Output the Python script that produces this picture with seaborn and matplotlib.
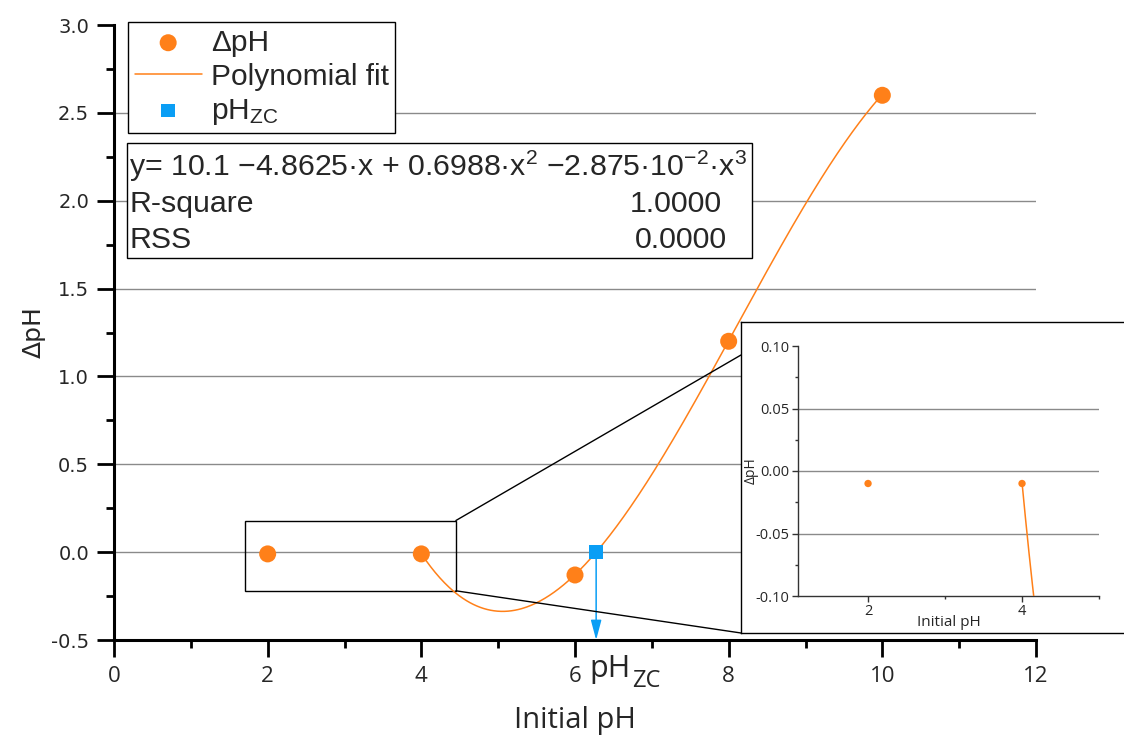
import numpy as np
import pandas as pd
import matplotlib
matplotlib.use("Agg")
import matplotlib.pyplot as plt
import matplotlib.transforms as mtransforms
import seaborn as sns
from matplotlib.patches import Rectangle, ConnectionPatch
from matplotlib.font_manager import FontProperties

# ---- data -------------------------------------------------------------
initial_ph = [2, 4, 6, 8, 10]
delta_ph = [-0.01, -0.01, -0.13, 1.2, 2.6]
fit_coef = [10.1, -4.8625, 0.6988, -2.875e-2]   # c0 + c1*x + c2*x^2 + c3*x^3
fit_range = [4, 10]
r_square = 1.0
rss = 0.0
x_ticks = [0, 2, 4, 6, 8, 10, 12]
y_ticks = [-0.5, 0.0, 0.5, 1.0, 1.5, 2.0, 2.5, 3.0]
inset_x_ticks = [2, 4]
inset_x_minor = [3, 5]
inset_y_ticks = [-0.10, -0.05, 0.0, 0.05, 0.10]

ORANGE = "#FF8019"
BLUE = "#0A9EF5"
GRID = "#8a8a8a"
W, H = 1124, 740

sns.set_theme(style="white")
plt.rcParams["font.family"] = ["DejaVu Sans"]
plt.rcParams["axes.unicode_minus"] = False

fig = plt.figure(figsize=(W / 100, H / 100), dpi=100)
fig.patch.set_facecolor("white")
ax = fig.add_axes([114 / W, 1 - 640 / H, (1036 - 114) / W, (640 - 25) / H])

poly = np.polynomial.Polynomial(fit_coef)
xf = np.linspace(fit_range[0], fit_range[1], 400)
fit_df = pd.DataFrame({"x": xf, "y": poly(xf)})
pts = pd.DataFrame({"x": initial_ph, "y": delta_ph})

# point of zero charge: root of the fitted cubic where delta pH changes sign
roots = poly.roots()
real_roots = np.real(roots[np.isclose(np.imag(roots), 0)])
ph_zc = float(real_roots[(real_roots > initial_ph[2]) & (real_roots < initial_ph[3])][0])
zc_df = pd.DataFrame({"x": [ph_zc], "y": [0.0]})

ZC_LABEL = r"pH$\mathregular{_{ZC}}$"

# ---- main axes --------------------------------------------------------
sns.lineplot(data=fit_df, x="x", y="y", ax=ax, color=ORANGE, lw=1.1,
             label="Polynomial fit", zorder=3)
sns.scatterplot(data=pts, x="x", y="y", ax=ax, color=ORANGE, s=150,
                marker="o", edgecolor="none", label="\u0394pH", zorder=4)
ax.annotate("", xy=(ph_zc, -0.5), xytext=(ph_zc, 0.0),
            arrowprops=dict(arrowstyle="-|>,head_length=1.2,head_width=0.32",
                            color=BLUE, lw=1.1, shrinkA=0, shrinkB=0,
                            mutation_scale=10), zorder=4)
sns.scatterplot(data=zc_df, x="x", y="y", ax=ax, color=BLUE, s=95,
                marker="s", edgecolor="none", label=ZC_LABEL, zorder=5)

ax.set_xlim(0, 12)
ax.set_ylim(-0.5, 3.0)
ax.set_xticks(x_ticks)
ax.set_xticks([1, 3, 5, 7, 9, 11], minor=True)
ax.set_yticks(y_ticks)
ax.set_yticks(np.arange(-0.25, 3.0, 0.5), minor=True)
ax.set_xticklabels([str(v) for v in x_ticks])
ax.set_yticklabels([f"{v:.1f}" for v in y_ticks])
for lbl in ax.get_xticklabels():
    lbl.set_fontfamily("Open Sans")
    lbl.set_fontsize(16)
for lbl in ax.get_yticklabels():
    lbl.set_fontfamily("DejaVu Sans")
    lbl.set_fontsize(14)
ax.tick_params(axis="both", which="major", direction="out", length=12,
               width=2, color="black", bottom=True, left=True)
ax.tick_params(axis="both", which="minor", direction="out", length=6,
               width=2, color="black", bottom=True, left=True)
ax.tick_params(axis="x", which="major", pad=7)
ax.tick_params(axis="y", which="major", pad=6)

for side in ("top", "right"):
    ax.spines[side].set_visible(False)
for side in ("left", "bottom"):
    ax.spines[side].set_color("black")
    ax.spines[side].set_linewidth(2.2)

ax.set_axisbelow(True)
ax.yaxis.grid(True, color=GRID, lw=1)
ax.xaxis.grid(False)
ax.get_ygridlines()[-1].set_visible(False)

ax.set_xlabel("Initial pH", fontfamily="Open Sans", fontsize=21)
ax.xaxis.set_label_coords(0.5, -0.108)
ax.set_ylabel("\u0394pH", fontfamily="DejaVu Sans", fontsize=18)
ax.yaxis.set_label_coords(-0.074, 0.5)

# pH_ZC label beside the 6 tick, drawn as text plus subscript
blend = mtransforms.blended_transform_factory(ax.transData, ax.transAxes)
ax.text(ph_zc, 0.0, "pH",
        transform=mtransforms.offset_copy(blend, fig=fig, x=-7, y=-37, units="dots"),
        ha="left", va="baseline", fontfamily="Open Sans", fontsize=22)
ax.text(ph_zc, 0.0, "ZC",
        transform=mtransforms.offset_copy(blend, fig=fig, x=36, y=-47, units="dots"),
        ha="left", va="baseline", fontfamily="Open Sans", fontsize=17)

# zoom region marker
zoom_x0, zoom_x1, zoom_y0, zoom_y1 = 1.7, 4.45, -0.22, 0.18
ax.add_patch(Rectangle((zoom_x0, zoom_y0), zoom_x1 - zoom_x0, zoom_y1 - zoom_y0,
                       fill=False, ec="black", lw=1, zorder=2))

# legend
handles, labels = ax.get_legend_handles_labels()
order = ["\u0394pH", "Polynomial fit", ZC_LABEL]
hmap = dict(zip(labels, handles))
leg = ax.legend([hmap[k] for k in order], order, loc="upper left",
                bbox_to_anchor=(128 / W, 1 - 22 / H), bbox_transform=fig.transFigure,
                prop=FontProperties(family="Liberation Sans", size=21.5),
                frameon=True, fancybox=False, edgecolor="black", framealpha=1,
                borderpad=0.22, borderaxespad=0, handlelength=2.25,
                handletextpad=0.3, labelspacing=0.2)
leg.get_frame().set_linewidth(1.0)

# fit statistics table
fig.add_artist(Rectangle((127 / W, 1 - 258 / H), (752 - 127) / W, (258 - 143) / H,
                         transform=fig.transFigure, facecolor="white",
                         edgecolor="black", lw=1, zorder=4))
c0, c1, c2, c3 = fit_coef
c3_exp = int(np.floor(np.log10(abs(c3))))
c3_man = c3 / 10 ** c3_exp
eq = (f"y= {c0:g} \u2212{abs(c1):g}\u00b7x + {c2:g}\u00b7x$\\mathregular{{^2}}$ "
      f"\u2212{abs(c3_man):g}\u00b710$\\mathregular{{^{{\u2212{abs(c3_exp)}}}}}$\u00b7x$\\mathregular{{^3}}$")
tf = dict(fontfamily="Liberation Sans", fontsize=21.8, zorder=5, va="baseline")
fig.text(129 / W, 1 - 176 / H, eq, ha="left", **tf)
fig.text(129 / W, 1 - 212 / H, "R-square", ha="left", **tf)
fig.text(722 / W, 1 - 212 / H, f"{r_square:.4f}", ha="right", **tf)
fig.text(129 / W, 1 - 248 / H, "RSS", ha="left", **tf)
fig.text(727 / W, 1 - 248 / H, f"{rss:.4f}", ha="right", **tf)

# ---- inset ------------------------------------------------------------
frame = fig.add_axes([741 / W, (H - 633) / H, 400 / W, (633 - 322) / H])
frame.set_facecolor("white")
frame.set_xticks([])
frame.set_yticks([])
for sp in frame.spines.values():
    sp.set_color("black")
    sp.set_linewidth(1)
frame.set_zorder(2)

axin = fig.add_axes([798 / W, (H - 596) / H, (1099 - 798) / W, (596 - 346) / H])
axin.set_zorder(3)
axin.patch.set_alpha(0)
sns.lineplot(data=fit_df, x="x", y="y", ax=axin, color=ORANGE, lw=1.1,
             legend=False, zorder=3)
sns.scatterplot(data=pts, x="x", y="y", ax=axin, color=ORANGE, s=28,
                marker="o", edgecolor="none", legend=False, zorder=4)
axin.set_xlim(1.09, 5.0)
axin.set_ylim(-0.1, 0.1)
axin.set_xticks(inset_x_ticks)
axin.set_xticks(inset_x_minor, minor=True)
axin.set_yticks(inset_y_ticks)
axin.set_yticks([-0.075, -0.025, 0.025, 0.075], minor=True)
axin.set_xticklabels([str(v) for v in inset_x_ticks])
axin.set_yticklabels([f"{v:.2f}" for v in inset_y_ticks])
for lbl in axin.get_xticklabels() + axin.get_yticklabels():
    lbl.set_fontfamily("Open Sans")
    lbl.set_fontsize(10.5)
axin.tick_params(axis="both", which="major", direction="out", length=4,
                 width=1, color="#333333", bottom=True, left=True, pad=2)
axin.tick_params(axis="both", which="minor", direction="out", length=2.5,
                 width=1, color="#333333", bottom=True, left=True)
for side in ("top", "right"):
    axin.spines[side].set_visible(False)
for side in ("left", "bottom"):
    axin.spines[side].set_color("#333333")
    axin.spines[side].set_linewidth(1)
axin.set_axisbelow(True)
axin.yaxis.grid(True, color=GRID, lw=1)
axin.xaxis.grid(False)
axin.get_ygridlines()[0].set_visible(False)
axin.get_ygridlines()[-1].set_visible(False)
axin.set_xlabel("Initial pH", fontfamily="Open Sans", fontsize=11)
axin.xaxis.set_label_coords(0.5, -0.075)
axin.set_ylabel("\u0394pH", fontfamily="Open Sans", fontsize=10)
axin.yaxis.set_label_coords(-0.13, 0.5)

# connector lines from zoom box to inset frame
for (xa, ya), yb in (((zoom_x1, zoom_y1), 355), ((zoom_x1, zoom_y0), 633)):
    con = ConnectionPatch(xyA=(xa, ya), coordsA=ax.transData,
                          xyB=(741, H - yb), coordsB="figure pixels",
                          color="black", lw=1, zorder=1)
    fig.add_artist(con)

fig.savefig("out.png", dpi=100, facecolor="white")
